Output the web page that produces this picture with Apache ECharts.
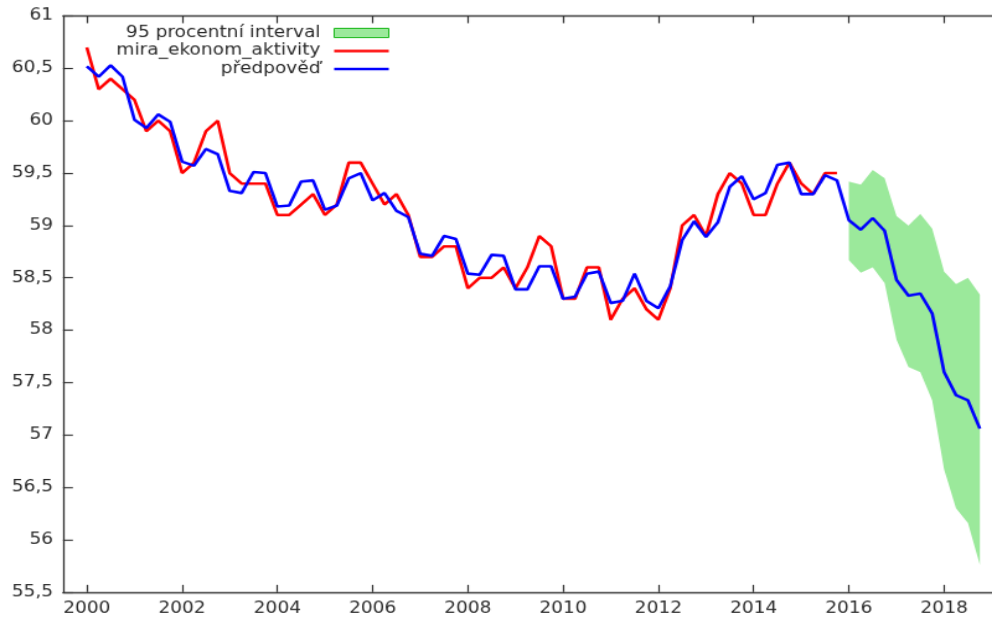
<!DOCTYPE html>
<html>
<head>
<meta charset="utf-8">
<script src="https://cdn.jsdelivr.net/npm/echarts@6/dist/echarts.min.js"></script>
<style>
  html, body { margin: 0; padding: 0; background: #fff; overflow: hidden; }
  #wrap { width: 992px; height: 618px; overflow: hidden; }
  /* the chart is laid out in 800x600 units and stretched to the page size;
     the plot runs slightly past the right edge, so the canvas is a bit wider */
  #chart { width: 820px; height: 600px; transform: scale(1.24, 1.03); transform-origin: 0 0; }
</style>
</head>
<body>
<div id="wrap"><div id="chart"></div></div>
<script>
// quarterly series, first quarter of 2000 onwards
const startYear = 2000;

// míra ekonomické aktivity (2000 Q1 – 2015 Q4)
const miraEkonomAktivity = [
  60.7, 60.3, 60.4, 60.3,
  60.2, 59.9, 60.0, 59.9,
  59.5, 59.6, 59.9, 60.0,
  59.5, 59.4, 59.4, 59.4,
  59.1, 59.1, 59.2, 59.3,
  59.1, 59.2, 59.6, 59.6,
  59.4, 59.2, 59.3, 59.1,
  58.7, 58.7, 58.8, 58.8,
  58.4, 58.5, 58.5, 58.6,
  58.4, 58.6, 58.9, 58.8,
  58.3, 58.3, 58.6, 58.6,
  58.1, 58.3, 58.4, 58.2,
  58.1, 58.4, 59.0, 59.1,
  58.9, 59.3, 59.5, 59.4,
  59.1, 59.1, 59.4, 59.6,
  59.4, 59.3, 59.5, 59.5
];

// předpověď (2000 Q1 – 2018 Q4)
const predpoved = [
  60.52, 60.42, 60.53, 60.42,
  60.01, 59.93, 60.06, 59.99,
  59.61, 59.57, 59.73, 59.68,
  59.33, 59.31, 59.51, 59.50,
  59.18, 59.19, 59.42, 59.43,
  59.15, 59.19, 59.45, 59.50,
  59.24, 59.31, 59.14, 59.08,
  58.73, 58.71, 58.90, 58.87,
  58.54, 58.53, 58.72, 58.71,
  58.39, 58.39, 58.61, 58.61,
  58.30, 58.32, 58.54, 58.56,
  58.26, 58.28, 58.54, 58.28,
  58.21, 58.42, 58.86, 59.04,
  58.89, 59.03, 59.37, 59.47,
  59.25, 59.31, 59.58, 59.60,
  59.30, 59.30, 59.48, 59.43,
  59.05, 58.96, 59.07, 58.95,
  58.48, 58.33, 58.35, 58.16,
  57.60, 57.38, 57.33, 57.06
];

// 95% interval of the forecast (2016 Q1 – 2018 Q4)
const intervalStart = 2016;
const intervalHorni = [59.42, 59.39, 59.53, 59.45, 59.09, 59.00, 59.11, 58.97, 58.56, 58.44, 58.50, 58.34];
const intervalDolni = [58.67, 58.55, 58.60, 58.45, 57.91, 57.65, 57.60, 57.33, 56.67, 56.30, 56.16, 55.76];

const xTickLabels = [2000, 2002, 2004, 2006, 2008, 2010, 2012, 2014, 2016, 2018];

const nameInterval = '95 procentní interval';
const nameMira = 'mira_ekonom_aktivity';
const namePredpoved = 'předpověď';

const q = (y0, i) => y0 + i * 0.25;
const miraData = miraEkonomAktivity.map((v, i) => [q(startYear, i), v]);
const predData = predpoved.map((v, i) => [q(startYear, i), v]);
const intervalData = intervalHorni.map((v, i) => [q(intervalStart, i), intervalDolni[i], v]);

const FONT = 'DejaVu Sans';
const AXIS_COLOR = '#303030';
const TEXT_COLOR = '#2a2a2a';
const GREEN = '#9be99b';
const RED = '#ff0000';
const BLUE = '#0000ff';
const LINE_ICON = 'path://M0,0H44V2.6H0Z';

// the band is one polygon: upper bound left to right, lower bound back
function renderInterval(params, api) {
  if (params.dataIndex !== 0) return null;
  const top = intervalData.map(d => api.coord([d[0], d[2]]));
  const bottom = intervalData.map(d => api.coord([d[0], d[1]])).reverse();
  return {
    type: 'polygon',
    shape: { points: top.concat(bottom) },
    style: { fill: GREEN, stroke: null }
  };
}

const chart = echarts.init(document.getElementById('chart'), null, { renderer: 'canvas' });

chart.setOption({
  animation: false,
  backgroundColor: '#fff',
  textStyle: { fontFamily: FONT },
  grid: { left: 50.8, top: 15.5, width: 758.6, height: 559.3, containLabel: false },
  legend: {
    orient: 'vertical',
    align: 'right',
    right: 501,
    top: 19,
    itemWidth: 44,
    itemHeight: 9,
    itemGap: 1.5,
    symbolKeepAspect: true,
    textStyle: { fontFamily: FONT, fontSize: 15, color: TEXT_COLOR, lineHeight: 16, padding: [0, 6, 0, 0] },
    selectedMode: false,
    data: [
      { name: nameInterval, icon: 'rect', itemStyle: { color: GREEN, borderColor: '#1cb81c', borderWidth: 1 } },
      { name: nameMira, icon: LINE_ICON, itemStyle: { color: RED, borderWidth: 0 } },
      { name: namePredpoved, icon: LINE_ICON, itemStyle: { color: BLUE, borderWidth: 0 } }
    ]
  },
  xAxis: [
    {
      type: 'value',
      min: 1999.5,
      max: 2019.25,
      position: 'bottom',
      axisLine: { show: true, onZero: false, lineStyle: { color: AXIS_COLOR, width: 1.3 } },
      axisTick: { show: true, inside: true, length: 7, customValues: xTickLabels, lineStyle: { color: AXIS_COLOR, width: 1.2 } },
      axisLabel: { show: true, customValues: xTickLabels, margin: 9, fontFamily: FONT, fontSize: 15, color: TEXT_COLOR, formatter: v => String(v) },
      splitLine: { show: false }
    },
    {
      type: 'value',
      min: 1999.5,
      max: 2019.25,
      position: 'top',
      axisLine: { show: true, onZero: false, lineStyle: { color: AXIS_COLOR, width: 1.3 } },
      axisTick: { show: true, inside: true, length: 7, customValues: xTickLabels, lineStyle: { color: AXIS_COLOR, width: 1.2 } },
      axisLabel: { show: false },
      splitLine: { show: false }
    }
  ],
  yAxis: {
    type: 'value',
    min: 55.5,
    max: 61,
    interval: 0.5,
    axisLine: { show: true, onZero: false, lineStyle: { color: AXIS_COLOR, width: 1.3 } },
    axisTick: { show: true, inside: true, length: 8, lineStyle: { color: AXIS_COLOR, width: 1.2 } },
    axisLabel: {
      margin: 8, fontFamily: FONT, fontSize: 15, color: TEXT_COLOR,
      formatter: v => String(+v.toFixed(1)).replace('.', ',')
    },
    splitLine: { show: false }
  },
  series: [
    {
      name: nameInterval,
      type: 'custom',
      renderItem: renderInterval,
      data: intervalData,
      encode: { x: 0, y: [1, 2] },
      itemStyle: { color: GREEN },
      silent: true,
      z: 1
    },
    {
      name: nameMira,
      type: 'line',
      data: miraData,
      symbol: 'none',
      itemStyle: { color: RED },
      lineStyle: { color: RED, width: 2.6 },
      z: 2
    },
    {
      name: namePredpoved,
      type: 'line',
      data: predData,
      symbol: 'none',
      itemStyle: { color: BLUE },
      lineStyle: { color: BLUE, width: 2.6 },
      z: 3
    }
  ]
});
</script>
</body>
</html>
